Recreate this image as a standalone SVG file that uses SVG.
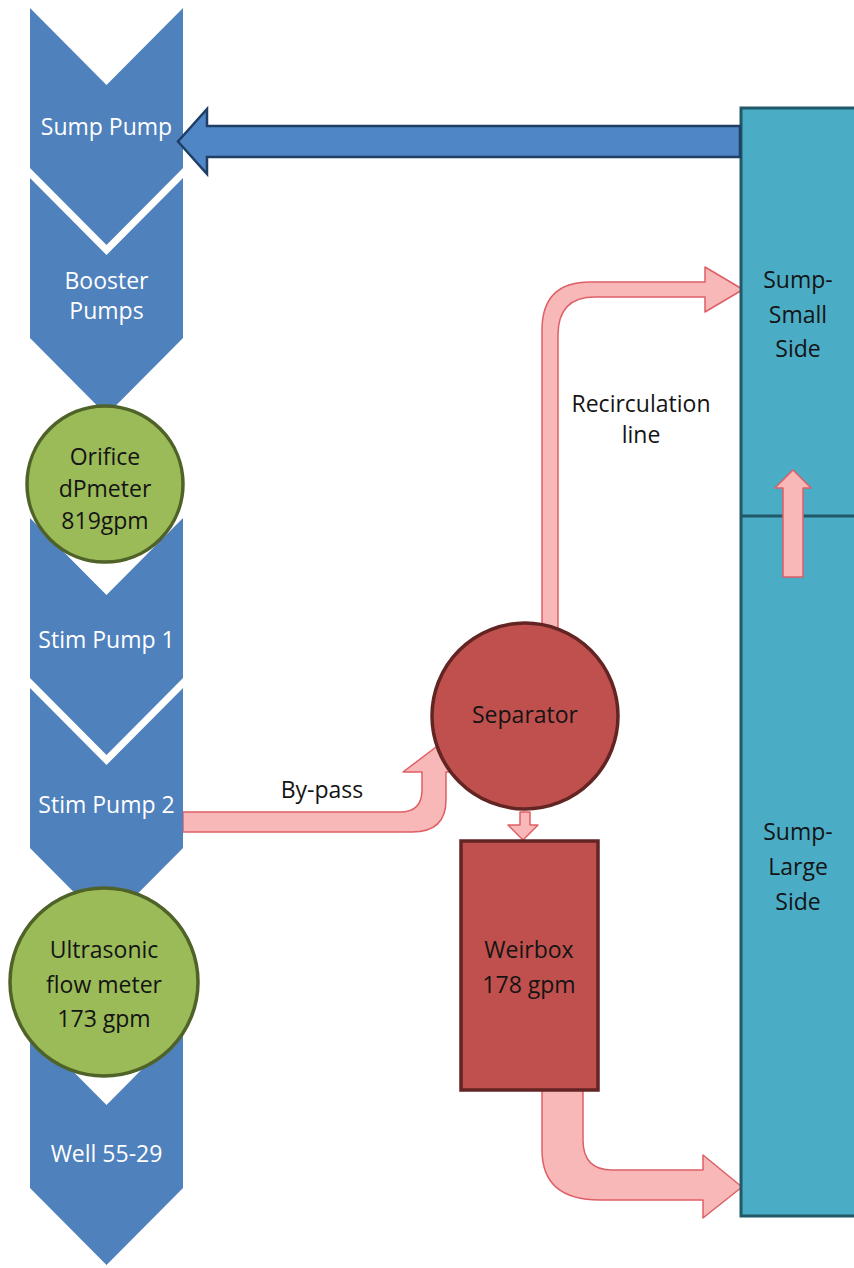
<svg xmlns="http://www.w3.org/2000/svg" width="854" height="1268" viewBox="0 0 854 1268">
<style>
.chev{fill:#4F81BD;}
.wt{font-family:"Open Sans","Liberation Sans",sans-serif;font-size:23px;fill:#FFFFFF;text-anchor:middle;}
.dt{font-family:"Open Sans","Liberation Sans",sans-serif;font-size:23px;fill:#141414;text-anchor:middle;}
.green{fill:#9BBB59;stroke:#4F6228;stroke-width:3.5;}
.red{fill:#C0504D;stroke:#632523;stroke-width:3.5;}
.pink{fill:#F8B8B8;stroke:#DE5F66;stroke-width:1.5;stroke-linejoin:round;}
.sump{fill:#4BACC6;stroke:#215968;stroke-width:3;}
</style>
<rect width="854" height="1268" fill="#FFFFFF"/>
<g id="connectors">
<path class="pink" d="M542,628 L542,330 Q542,282 590,282 L705,282 L705,267 L743,289.5 L705,312 L705,297 L595,297 Q558,297 558,335 L558,628 Z"/>
<path class="pink" d="M183,812 L400,812 Q422,812 422,790 L422,772 L403,772 L440,744 L468,772 L446,772 L446,800 Q446,832 412,832 L183,832 Z"/>
<path class="pink" d="M520,812 L530,812 L530,825 L538,825 L523,840 L508,825 L520,825 Z"/>
<path class="pink" d="M542,1090 L542,1150 Q542,1200 600,1200 L703,1200 L703,1218 L742,1187 L703,1155 L703,1170 L612,1170 Q583,1170 583,1140 L583,1090 Z"/>
</g>
<g id="sump-pump">
<polygon class="chev" points="30,8 106.5,85 183,8 183,168 106.5,245 30,168"/>
<text class="wt" x="106.5" y="135">Sump Pump</text>
</g>
<g id="booster-pumps">
<polygon class="chev" points="30,178 106.5,255 183,178 183,338 106.5,415 30,338"/>
<text class="wt" x="106.5" y="289">Booster</text>
<text class="wt" x="106.5" y="319">Pumps</text>
</g>
<g id="stim-pump-1">
<polygon class="chev" points="30,518 106.5,595 183,518 183,678 106.5,755 30,678"/>
<text class="wt" x="106.5" y="648">Stim Pump 1</text>
</g>
<g id="orifice">
<circle class="green" cx="105" cy="484" r="78"/>
<text class="dt" x="105" y="465">Orifice</text>
<text class="dt" x="105" y="497">dPmeter</text>
<text class="dt" x="105" y="529">819gpm</text>
</g>
<g id="stim-pump-2">
<polygon class="chev" points="30,688 106.5,765 183,688 183,848 106.5,925 30,848"/>
<text class="wt" x="106.5" y="813">Stim Pump 2</text>
</g>
<g id="well">
<polygon class="chev" points="30,1028 106.5,1105 183,1028 183,1188 106.5,1265 30,1188"/>
<text class="wt" x="106.5" y="1162">Well 55-29</text>
</g>
<g id="ultrasonic">
<circle class="green" cx="104" cy="982" r="94"/>
<text class="dt" x="104" y="958">Ultrasonic</text>
<text class="dt" x="104" y="993">flow meter</text>
<text class="dt" x="104" y="1027">173 gpm</text>
</g>
<g id="sump">
<rect class="sump" x="741" y="108" width="130" height="1108"/>
<line x1="741" y1="516" x2="860" y2="516" stroke="#215968" stroke-width="3"/>
<text class="dt" x="798" y="288">Sump-</text>
<text class="dt" x="798" y="323">Small</text>
<text class="dt" x="798" y="357">Side</text>
<text class="dt" x="798" y="840">Sump-</text>
<text class="dt" x="798" y="875">Large</text>
<text class="dt" x="798" y="910">Side</text>
<path class="pink" d="M783,577 L783,488 L775,488 L793,470 L811,488 L803,488 L803,577 Z"/>
</g>
<g id="return-arrow">
<path d="M740,126 L207,126 L207,109 L178,141.5 L207,174 L207,157 L740,157 Z" fill="#4F86C6" stroke="#1F3F66" stroke-width="2.5" stroke-linejoin="miter"/>
</g>
<g id="separator">
<circle class="red" cx="525" cy="716" r="93"/>
<text class="dt" x="525" y="723">Separator</text>
</g>
<g id="weirbox">
<rect class="red" x="461" y="841" width="137" height="249"/>
<text class="dt" x="529" y="958">Weirbox</text>
<text class="dt" x="529" y="993">178 gpm</text>
</g>
<g id="labels">
<text class="dt" x="641" y="412">Recirculation</text>
<text class="dt" x="641" y="443">line</text>
<text class="dt" x="322" y="798">By-pass</text>
</g>
</svg>
